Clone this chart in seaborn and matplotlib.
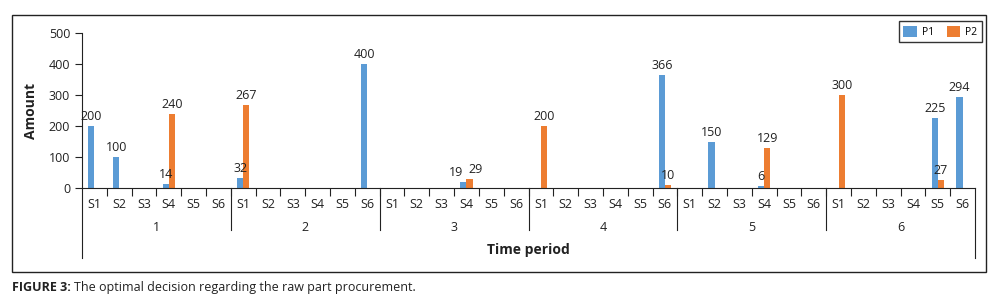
import pandas as pd
import seaborn as sns
import matplotlib.pyplot as plt
from matplotlib.patches import Rectangle
from matplotlib.transforms import blended_transform_factory

# Data: one value per (period, supplier)
periods = ["1", "2", "3", "4", "5", "6"]
suppliers = ["S1", "S2", "S3", "S4", "S5", "S6"]
p1 = [200, 100, 0, 14, 0, 0,
      32, 0, 0, 0, 0, 400,
      0, 0, 0, 19, 0, 0,
      0, 0, 0, 0, 0, 366,
      0, 150, 0, 6, 0, 0,
      0, 0, 0, 0, 225, 294]
p2 = [0, 0, 0, 240, 0, 0,
      267, 0, 0, 0, 0, 0,
      0, 0, 0, 29, 0, 0,
      200, 0, 0, 0, 0, 10,
      0, 0, 0, 129, 0, 0,
      300, 0, 0, 0, 27, 0]

slots = [p + "-" + s for p in periods for s in suppliers]
df = pd.DataFrame({
    "slot": slots * 2,
    "product": ["P1"] * len(slots) + ["P2"] * len(slots),
    "amount": p1 + p2,
})

plt.rcParams["font.family"] = ["Open Sans", "DejaVu Sans"]

fig = plt.figure(figsize=(10, 3.05), dpi=100)
ax = fig.add_axes([0.082, 0.3836, 0.893, 0.5082])

sns.barplot(
    data=df, x="slot", y="amount", hue="product", order=slots,
    palette={"P1": "#5B9BD5", "P2": "#ED7D31"}, saturation=1,
    width=0.5, linewidth=0, ax=ax,
)

# value labels only on the bars that are non-zero
for j, cont in enumerate(ax.containers):
    labels = [f"{b.get_height():.0f}" if b.get_height() > 0 else "" for b in cont]
    anns = ax.bar_label(cont, labels=labels, fontsize=9, padding=2, color="#222222")
    # nudge labels apart where both bars of a slot are short and close
    for i, ann in enumerate(anns):
        if p1[i] > 0 and p2[i] > 0 and abs(p1[i] - p2[i]) < 40:
            ann.xyann = (-5 if j == 0 else 4, 2)

ax.set_xlim(-0.5, len(slots) - 0.5)
ax.set_ylim(0, 500)
ax.set_yticks([0, 100, 200, 300, 400, 500])
ax.tick_params(axis="y", labelsize=9, length=5, width=0.8, colors="#222222")
ax.set_xticks(range(len(slots)))
ax.set_xticklabels(suppliers * len(periods), fontsize=9, color="#222222")
ax.tick_params(axis="x", length=0, pad=7)
ax.set_xticks([i + 0.5 for i in range(len(slots) - 1)], minor=True)
ax.tick_params(axis="x", which="minor", length=6, width=0.8, color="#222222")

for side in ["top", "right"]:
    ax.spines[side].set_visible(False)
ax.spines["left"].set_color("#222222")
ax.spines["bottom"].set_color("#222222")
ax.spines["left"].set_linewidth(0.8)
ax.spines["bottom"].set_linewidth(0.8)

# period group separators and labels
trans = blended_transform_factory(ax.transData, ax.transAxes)
n = len(suppliers)
for k in range(len(periods) + 1):
    xb = k * n - 0.5
    low = -0.452 if k in (0, len(periods)) else -0.271
    ax.plot([xb, xb], [0, low], transform=trans, clip_on=False,
            color="#222222", lw=0.8)
for k, p in enumerate(periods):
    ax.text(k * n + (n - 1) / 2, -0.255, p, transform=trans,
            ha="center", va="center", fontsize=9, color="#222222")

ax.set_xlabel("")
ax.text(0.5, -0.40, "Time period", transform=ax.transAxes, ha="center",
        va="center", fontsize=10, fontweight="bold", color="#222222")
ax.set_ylabel("Amount", fontsize=10, fontweight="bold", color="#222222",
              labelpad=8)

leg = ax.legend(loc="upper right", bbox_to_anchor=(1.014, 1.11), ncol=2,
                fontsize=7.5, frameon=True, fancybox=False, handlelength=1.3,
                handleheight=1.2, columnspacing=1.2, handletextpad=0.5,
                borderpad=0.45)
leg.get_frame().set_edgecolor("black")
leg.get_frame().set_linewidth(1.0)

# outer frame and caption
fig.patches.append(Rectangle((0.012, 0.108), 0.974, 0.843, transform=fig.transFigure,
                             fill=False, edgecolor="#222222", lw=1.0))
fig.text(0.012, 0.059, "FIGURE 3:", fontsize=9, fontweight="bold",
         color="#222222", va="center")
fig.text(0.074, 0.059, "The optimal decision regarding the raw part procurement.",
         fontsize=9, color="#222222", va="center")

fig.savefig("out.png", dpi=100)
